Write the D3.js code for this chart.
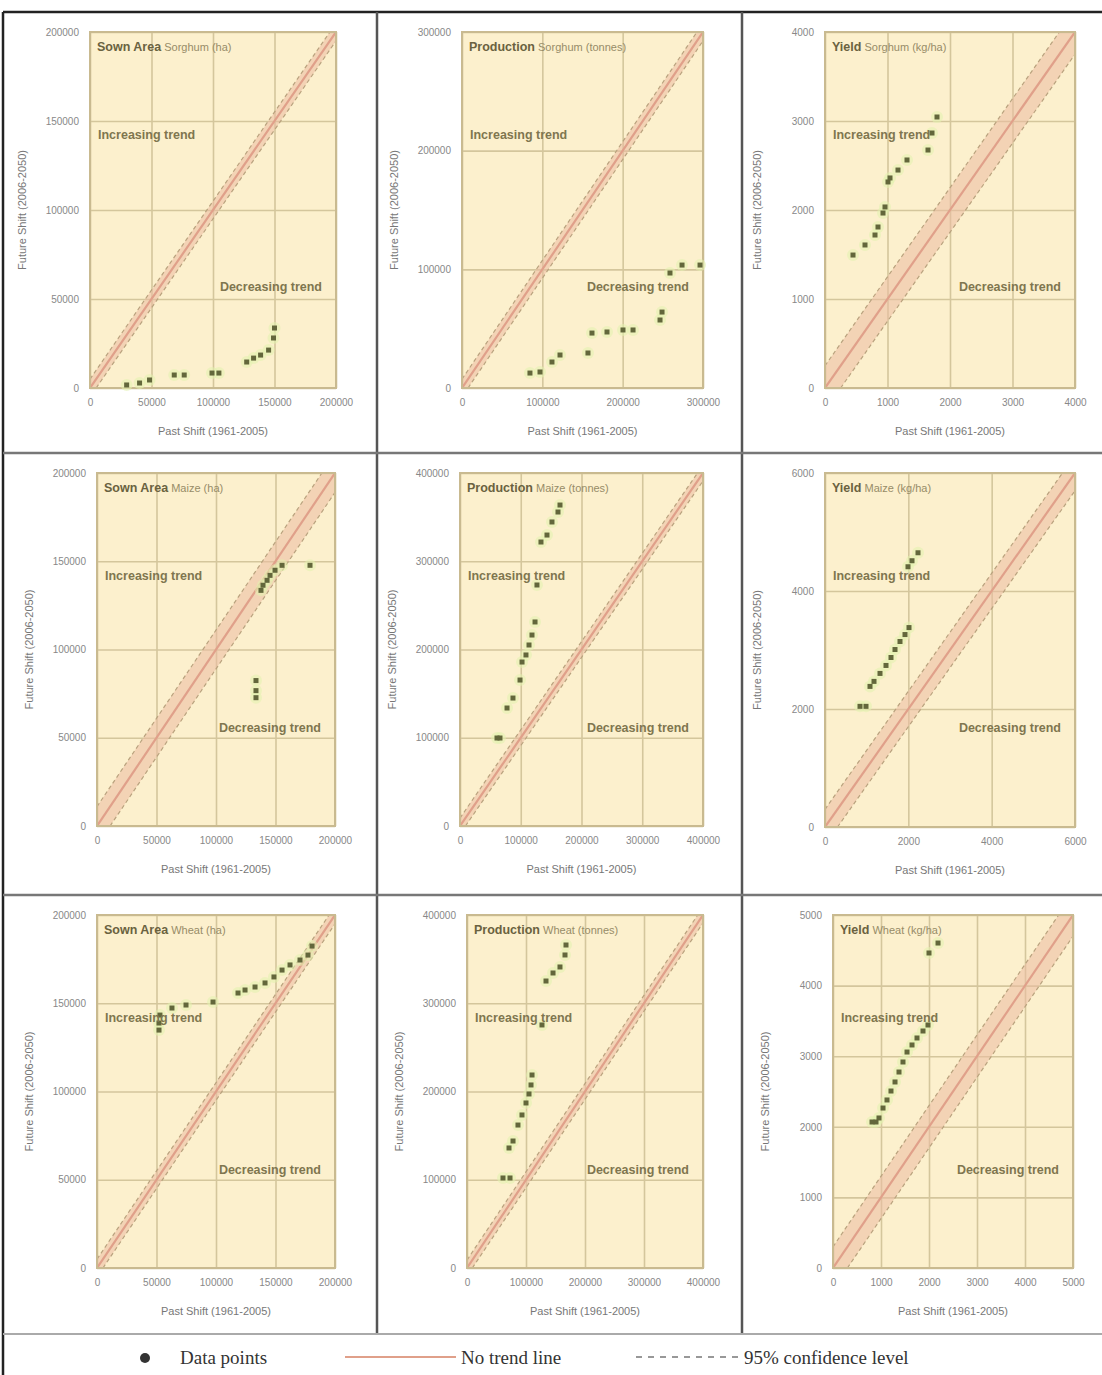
<!DOCTYPE html>
<html><head><meta charset="utf-8">
<script src="https://cdn.jsdelivr.net/npm/d3@7"></script>
<style>body{margin:0;background:#fff}</style>
</head><body><svg id="c" width="1102" height="1375"></svg>
<script>
// ---------- DATA ----------
const panelTitles = [
  ["Sown Area", "Sorghum (ha)"], ["Production", "Sorghum (tonnes)"], ["Yield", "Sorghum (kg/ha)"],
  ["Sown Area", "Maize (ha)"], ["Production", "Maize (tonnes)"], ["Yield", "Maize (kg/ha)"],
  ["Sown Area", "Wheat (ha)"], ["Production", "Wheat (tonnes)"], ["Yield", "Wheat (kg/ha)"]
];
const xAxisTitle = "Past Shift (1961-2005)";
const yAxisTitle = "Future Shift (2006-2050)";
const incLabel = "Increasing trend";
const decLabel = "Decreasing trend";
const legendLabels = ["Data points", "No trend line", "95% confidence level"];

const ticks1 = [0, 50000, 100000, 150000, 200000];
const ticks2 = [0, 100000, 200000, 300000];
const ticks3 = [0, 1000, 2000, 3000, 4000];
const ticks4 = [0, 50000, 100000, 150000, 200000];
const ticks5 = [0, 100000, 200000, 300000, 400000];
const ticks6 = [0, 2000, 4000, 6000];
const ticks7 = [0, 50000, 100000, 150000, 200000];
const ticks8 = [0, 100000, 200000, 300000, 400000];
const ticks9 = [0, 1000, 2000, 3000, 4000, 5000];

const confOffsets = [5000, 7500, 250, 11000, 9000, 300, 5000, 9000, 300];

const p1x = [29800, 40300, 48400, 68500, 76600, 99200, 104800, 127400, 133000, 138700, 145200, 149200, 150000];
const p1y = [1700, 2800, 4500, 7300, 7300, 8400, 8400, 14600, 16800, 18500, 21300, 28100, 33700];

const p2x = [84600, 97100, 112000, 122000, 156800, 161800, 180500, 200400, 212900, 246500, 249000, 258900, 273900, 296300];
const p2y = [12600, 13500, 21900, 27800, 29500, 46300, 47200, 48900, 48900, 57300, 64000, 96900, 103600, 103600];

const p3x = [448, 640, 800, 848, 928, 960, 1008, 1040, 1168, 1312, 1648, 1712, 1792];
const p3y = [1494, 1607, 1719, 1809, 1966, 2034, 2315, 2360, 2449, 2562, 2674, 2865, 3045];

const p4x = [155500, 149600, 145400, 142900, 139500, 137800, 179000, 133600, 133600, 133600];
const p4y = [147700, 144900, 142000, 139200, 136400, 133500, 147700, 82400, 76700, 72700];

const p5x = [164600, 161300, 151400, 143200, 133300, 126700, 123500, 118500, 113600, 108600, 102100, 98800, 87200, 77400, 65800, 60900];
const p5y = [363700, 355800, 344500, 329700, 321800, 273100, 231200, 216400, 205100, 193800, 185800, 165400, 145000, 133700, 99700, 99700];

const p6x = [2232, 2088, 1992, 2016, 1920, 1800, 1680, 1584, 1464, 1320, 1176, 1080, 840, 984];
const p6y = [4648, 4513, 4411, 3380, 3262, 3144, 3008, 2873, 2738, 2603, 2468, 2383, 2045, 2045];

const p7x = [180700, 177300, 170600, 162200, 155500, 148700, 141200, 132800, 124400, 118500, 97500, 74800, 63000, 52900, 52100, 52100];
const p7y = [182400, 177300, 174500, 171700, 168800, 164900, 161500, 159200, 157500, 155800, 150700, 149000, 147300, 143300, 138800, 134800];

const p8x = [167800, 166100, 157600, 145800, 133900, 127100, 110200, 108500, 105100, 100000, 93200, 86400, 78000, 71200, 61000, 72900];
const p8y = [366000, 354700, 341100, 334300, 325200, 275400, 218700, 207400, 197200, 187000, 173400, 162000, 143900, 136000, 102000, 102000];

const p9x = [2188, 2000, 1979, 1875, 1750, 1646, 1542, 1458, 1375, 1292, 1208, 1125, 1042, 958, 896, 813];
const p9y = [4603, 4462, 3442, 3357, 3258, 3159, 3059, 2918, 2776, 2635, 2507, 2380, 2266, 2125, 2068, 2068];

// ---------- LAYOUT ----------
const boxes = [
  {l: 90, r: 336, t: 32, b: 388}, {l: 462, r: 703, t: 32, b: 388}, {l: 825, r: 1075, t: 32, b: 388},
  {l: 97, r: 335, t: 473, b: 826}, {l: 460, r: 703, t: 473, b: 826}, {l: 825, r: 1075, t: 473, b: 827},
  {l: 97, r: 335, t: 915, b: 1268}, {l: 467, r: 703, t: 915, b: 1268}, {l: 833, r: 1073, t: 915, b: 1268}
];
const panelTicks = [ticks1, ticks2, ticks3, ticks4, ticks5, ticks6, ticks7, ticks8, ticks9];
const panelXs = [p1x, p2x, p3x, p4x, p5x, p6x, p7x, p8x, p9x];
const panelYs = [p1y, p2y, p3y, p4y, p5y, p6y, p7y, p8y, p9y];

const C = {
  bg: "#fcf0cd", grid: "#d4c69c", frame: "#c9ba90", diag: "#e0a08a", band: "#ebbba2",
  conf: "#b9a27e", pt: "#63673b", halo: "#e2f2ae", text: "#7f764f", title: "#6a6240",
  tick: "#888"
};

const svg = d3.select("#c");
const fmt = d3.format("d");

panelTicks.forEach((tks, i) => {
  const b = boxes[i];
  const maxV = tks[tks.length - 1];
  const x = d3.scaleLinear().domain([0, maxV]).range([b.l, b.r]);
  const y = d3.scaleLinear().domain([0, maxV]).range([b.b, b.t]);
  const g = svg.append("g");
  const cid = "clip" + i;
  g.append("clipPath").attr("id", cid).append("rect")
    .attr("x", b.l).attr("y", b.t).attr("width", b.r - b.l).attr("height", b.b - b.t);

  g.append("rect").attr("x", b.l).attr("y", b.t).attr("width", b.r - b.l).attr("height", b.b - b.t)
    .attr("fill", C.bg);

  // gridlines via axes
  g.append("g").attr("transform", `translate(0,${b.b})`)
    .call(d3.axisBottom(x).tickValues(tks).tickSize(-(b.b - b.t)).tickFormat(""))
    .call(s => s.select(".domain").remove())
    .call(s => s.selectAll("line").attr("stroke", C.grid).attr("stroke-width", 1.6));
  g.append("g").attr("transform", `translate(${b.l},0)`)
    .call(d3.axisLeft(y).tickValues(tks).tickSize(-(b.r - b.l)).tickFormat(""))
    .call(s => s.select(".domain").remove())
    .call(s => s.selectAll("line").attr("stroke", C.grid).attr("stroke-width", 1.6));

  // tick labels
  g.append("g").attr("transform", `translate(0,${b.b + 8})`)
    .call(d3.axisBottom(x).tickValues(tks).tickSize(0).tickFormat(fmt))
    .call(s => s.select(".domain").remove())
    .call(s => s.selectAll("text").attr("fill", C.tick).attr("font-size", 10)
      .attr("font-family", "Liberation Sans, Arial, sans-serif"));
  g.append("g").attr("transform", `translate(${b.l - 8},0)`)
    .call(d3.axisLeft(y).tickValues(tks).tickSize(0).tickFormat(fmt))
    .call(s => s.select(".domain").remove())
    .call(s => s.selectAll("text").attr("fill", C.tick).attr("font-size", 10)
      .attr("font-family", "Liberation Sans, Arial, sans-serif"));

  // no-trend line & confidence band
  const c = confOffsets[i];
  const cg = g.append("g").attr("clip-path", `url(#${cid})`);
  const band = [[0, c], [maxV - c, maxV], [maxV, maxV], [maxV, maxV - c], [c, 0], [0, 0]];
  cg.append("path").attr("d", d3.line().x(d => x(d[0])).y(d => y(d[1]))(band) + "Z")
    .attr("fill", C.band).attr("opacity", 0.55);
  [[[0, c], [maxV, maxV + c]], [[c, 0], [maxV + c, maxV]]].forEach(seg => {
    cg.append("line").attr("x1", x(seg[0][0])).attr("y1", y(seg[0][1]))
      .attr("x2", x(seg[1][0])).attr("y2", y(seg[1][1]))
      .attr("stroke", C.conf).attr("stroke-width", 1.2).attr("stroke-dasharray", "4,3");
  });
  cg.append("line").attr("x1", x(0)).attr("y1", y(0)).attr("x2", x(maxV)).attr("y2", y(maxV))
    .attr("stroke", C.diag).attr("stroke-width", 2.2);

  // frame
  g.append("rect").attr("x", b.l).attr("y", b.t).attr("width", b.r - b.l).attr("height", b.b - b.t)
    .attr("fill", "none").attr("stroke", C.frame).attr("stroke-width", 2);

  // points
  const pts = d3.zip(panelXs[i], panelYs[i]);
  g.append("g").selectAll("circle").data(pts).join("circle")
    .attr("cx", d => x(d[0])).attr("cy", d => y(d[1])).attr("r", 6)
    .attr("fill", C.halo).attr("opacity", 0.55);
  g.append("g").selectAll("rect").data(pts).join("rect")
    .attr("x", d => x(d[0]) - 2.5).attr("y", d => y(d[1]) - 2.5).attr("width", 5).attr("height", 5)
    .attr("fill", C.pt);

  // panel texts
  const tt = g.append("text").attr("x", b.l + 7).attr("y", b.t + 19)
    .attr("font-family", "Liberation Sans, Arial, sans-serif");
  tt.append("tspan").text(panelTitles[i][0]).attr("font-size", 12.5).attr("font-weight", "bold").attr("fill", C.title);
  tt.append("tspan").text(" " + panelTitles[i][1]).attr("font-size", 11).attr("fill", "#978c68");

  g.append("text").attr("x", b.l + 8).attr("y", b.t + 107).text(incLabel)
    .attr("font-size", 12.5).attr("font-weight", "bold").attr("fill", C.text)
    .attr("font-family", "Liberation Sans, Arial, sans-serif");
  g.append("text").attr("x", b.r - 14).attr("y", b.t + 259).attr("text-anchor", "end").text(decLabel)
    .attr("font-size", 12.5).attr("font-weight", "bold").attr("fill", C.text)
    .attr("font-family", "Liberation Sans, Arial, sans-serif");

  // axis titles
  g.append("text").attr("x", (b.l + b.r) / 2).attr("y", b.b + 47).attr("text-anchor", "middle")
    .text(xAxisTitle).attr("font-size", 11).attr("fill", "#777")
    .attr("font-family", "Liberation Sans, Arial, sans-serif");
  g.append("text").attr("transform", `translate(${b.l - 64},${(b.t + b.b) / 2}) rotate(-90)`)
    .attr("text-anchor", "middle").text(yAxisTitle).attr("font-size", 11).attr("fill", "#777")
    .attr("font-family", "Liberation Sans, Arial, sans-serif");
});

// ---------- FRAME / SEPARATORS ----------
const fr = svg.append("g");
fr.append("line").attr("x1", 3).attr("y1", 12).attr("x2", 1102).attr("y2", 12).attr("stroke", "#222").attr("stroke-width", 2.5);
fr.append("line").attr("x1", 3).attr("y1", 12).attr("x2", 3).attr("y2", 1375).attr("stroke", "#222").attr("stroke-width", 2.5);
[377, 742].forEach(xx => fr.append("line").attr("x1", xx).attr("y1", 12).attr("x2", xx).attr("y2", 1335)
  .attr("stroke", "#555").attr("stroke-width", 2.5));
[453, 895].forEach(yy => fr.append("line").attr("x1", 3).attr("y1", yy).attr("x2", 1102).attr("y2", yy)
  .attr("stroke", "#777").attr("stroke-width", 2.5));
fr.append("line").attr("x1", 3).attr("y1", 1334).attr("x2", 1102).attr("y2", 1334).attr("stroke", "#aaa").attr("stroke-width", 2);

// ---------- LEGEND ----------
const lg = svg.append("g").attr("font-family", "Liberation Serif, Times New Roman, serif")
  .attr("font-size", 19).attr("fill", "#333");
lg.append("circle").attr("cx", 145).attr("cy", 1358).attr("r", 5).attr("fill", "#333");
lg.append("text").attr("x", 180).attr("y", 1364).text(legendLabels[0]);
lg.append("line").attr("x1", 345).attr("y1", 1357).attr("x2", 456).attr("y2", 1357)
  .attr("stroke", C.diag).attr("stroke-width", 2);
lg.append("text").attr("x", 461).attr("y", 1364).text(legendLabels[1]);
lg.append("line").attr("x1", 636).attr("y1", 1357).attr("x2", 738).attr("y2", 1357)
  .attr("stroke", "#777").attr("stroke-width", 1.5).attr("stroke-dasharray", "6,6");
lg.append("text").attr("x", 744).attr("y", 1364).text(legendLabels[2]);
</script></body></html>
